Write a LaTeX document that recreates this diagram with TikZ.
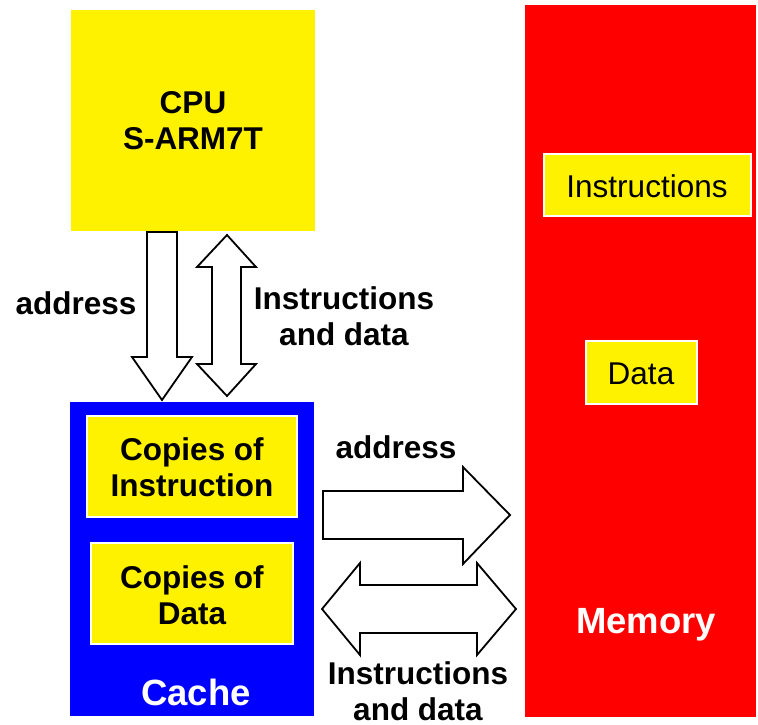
\documentclass[tikz,border=0pt]{standalone}
\usepackage{fontspec}
\setmainfont{Liberation Sans}
\begin{document}
\begin{tikzpicture}[x=1pt,y=-1pt,
  lbl/.style={font=\fontsize{31.5}{36}\selectfont\bfseries, align=center, inner sep=0pt},
  big/.style={font=\fontsize{36.5}{40}\selectfont\bfseries, text=white, inner sep=0pt},
  reg/.style={font=\fontsize{31.5}{36}\selectfont, inner sep=0pt},
  yb/.style={fill=yellow, draw=white, line width=1.2pt},
  blk/.style={draw=black, fill=white, line width=1.8pt, line join=miter}]
\useasboundingbox (0,0) rectangle (758,724);
% main blocks
\fill[yellow] (71,10) rectangle (315,231);
\fill[blue] (70,402) rectangle (314,716);
\fill[red] (525,5) rectangle (756,717);
% inner boxes
\draw[yb] (87,416) rectangle (297,517);
\draw[yb] (91,543) rectangle (293,644);
\draw[yb] (544,154) rectangle (751,216);
\draw[yb] (586,341) rectangle (697,404);
% texts
\node[lbl] (cpu) at (193,121) {CPU\\S-ARM7T};
\node[lbl] (ci) at (192,467) {Copies of\\Instruction};
\node[lbl] (cd) at (192,595) {Copies of\\Data};
\node[big] (cache) at (196,692) {Cache};
\node[big] (mem) at (646,625) {Memory};
\node[reg] (mi) at (647,186) {Instructions};
\node[reg] (md) at (641,374) {Data};
\node[lbl] (a1) at (76,303) {address};
\node[lbl] (id1) at (344,316) {Instructions\\and data};
\node[lbl] (a2) at (396,447) {address};
\node[lbl] (id2) at (418,691) {Instructions\\and data};
% down arrow
\draw[blk] (147,232) -- (177,232) -- (177,357) -- (192,357) -- (162,400) -- (132,357) -- (147,357) -- cycle;
% vertical double arrow
\draw[blk] (227,235) -- (256,267) -- (241,267) -- (241,364) -- (256,364) -- (227,396) -- (197,364) -- (212,364) -- (212,267) -- (197,267) -- cycle;
% right arrow
\draw[blk] (323,491) -- (463,491) -- (463,467) -- (510,515) -- (463,564) -- (463,539) -- (323,539) -- cycle;
% horizontal double arrow
\draw[blk] (322,609) -- (360,563) -- (360,585) -- (477,585) -- (477,563) -- (516,609) -- (477,655) -- (477,633) -- (360,633) -- (360,655) -- cycle;
\end{tikzpicture}
\end{document}
